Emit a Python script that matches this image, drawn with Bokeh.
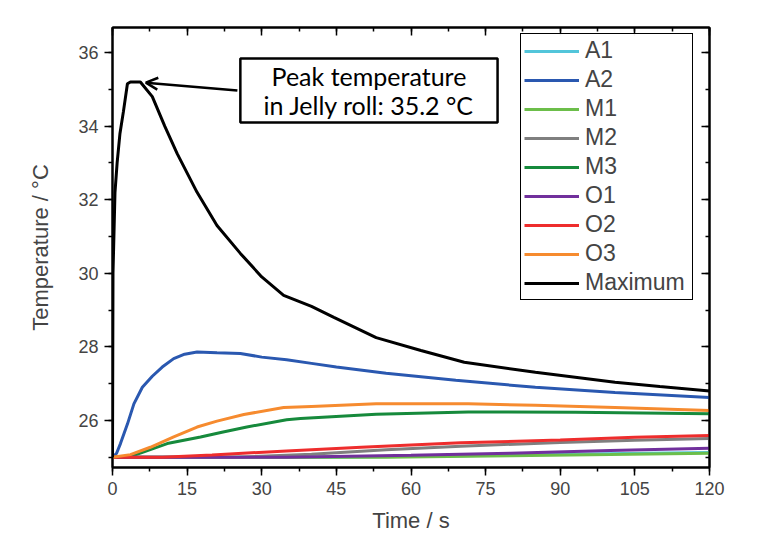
from bokeh.plotting import figure
from bokeh.models import (LinearAxis, SingleIntervalTicker, Legend, LegendItem,
                          BoxAnnotation, Label, Arrow, OpenHead, Range1d,
                          CustomJSTickFormatter)
from bokeh.embed import file_html
from bokeh.resources import INLINE

# Temperature histories (time in s, temperature in degC)
t_a1 = [0, 45, 70, 90, 120]
a1 = [25.0, 25.0, 25.04, 25.08, 25.13]

t_a2 = [0, 0.8, 1.6, 3, 4.3, 6, 8, 10, 12.3, 14.5, 17, 21, 25.7, 30, 35, 40, 45, 55, 69, 85, 101, 120]
a2 = [25.0, 25.1, 25.37, 25.9, 26.45, 26.9, 27.2, 27.45, 27.68, 27.8, 27.86, 27.84, 27.82, 27.72,
      27.65, 27.55, 27.45, 27.28, 27.09, 26.9, 26.76, 26.62]

t_m1 = [0, 55, 80, 100, 120]
m1 = [25.0, 25.0, 25.04, 25.07, 25.11]

t_m2 = [0, 25, 40, 55, 70, 90, 105, 120]
m2 = [25.0, 25.0, 25.08, 25.2, 25.3, 25.4, 25.46, 25.51]

t_m3 = [0, 3, 5.6, 11, 17.7, 22, 27, 35, 37.8, 53, 71.5, 93, 120]
m3 = [25.0, 25.0, 25.11, 25.37, 25.55, 25.68, 25.82, 26.02, 26.05, 26.17, 26.23, 26.22, 26.18]

t_o1 = [0, 35, 60, 80, 100, 120]
o1 = [25.0, 25.0, 25.05, 25.11, 25.18, 25.24]

t_o2 = [0, 10, 20, 35, 50, 70, 90, 105, 120]
o2 = [25.0, 25.0, 25.06, 25.17, 25.27, 25.39, 25.47, 25.54, 25.59]

t_o3 = [0, 3.6, 7.6, 12.3, 17, 21, 26.4, 34.4, 40, 53, 71.5, 85, 101, 120]
o3 = [25.0, 25.07, 25.27, 25.55, 25.82, 25.98, 26.16, 26.35, 26.38, 26.45, 26.45, 26.41, 26.35, 26.27]

t_max = [0, 0.1, 0.5, 0.93, 1.5, 2.2, 3.0, 3.6, 5.6, 8, 10.5, 13, 17, 21, 25.7, 30, 34.4, 40,
         44.5, 53, 62, 70.7, 85, 101, 110, 120]
t_maximum = [25.0, 30.0, 32.2, 33.0, 33.8, 34.4, 35.15, 35.2, 35.2, 34.8, 34.0, 33.25, 32.2, 31.3,
             30.54, 29.9, 29.4, 29.1, 28.8, 28.25, 27.9, 27.58, 27.31, 27.04, 26.92, 26.8]

peak_value = 35.2
peak_time = 4.5

series = [
    ("A1", t_a1, a1, "#52C5DA"),
    ("A2", t_a2, a2, "#2A58B0"),
    ("M1", t_m1, m1, "#6CBE4A"),
    ("M2", t_m2, m2, "#7F7F7F"),
    ("M3", t_m3, m3, "#168A3C"),
    ("O1", t_o1, o1, "#71309C"),
    ("O2", t_o2, o2, "#EE2D2D"),
    ("O3", t_o3, o3, "#F68B2F"),
    ("Maximum", t_max, t_maximum, "#000000"),
]

FONT = "Liberation Sans"

p = figure(width=759, height=542, output_backend="svg", toolbar_location=None,
           x_range=Range1d(0, 120), y_range=Range1d(24.72, 36.68),
           min_border_left=112, min_border_right=50, min_border_top=27, min_border_bottom=75)
p.grid.visible = False
p.outline_line_color = "black"
p.outline_line_width = 2
p.background_fill_color = "white"
p.border_fill_color = "white"

xt = SingleIntervalTicker(interval=15, num_minor_ticks=2)
yt = SingleIntervalTicker(interval=2, num_minor_ticks=2)

for ax in (p.xaxis[0], p.yaxis[0]):
    ax.axis_line_width = 2
    ax.major_tick_line_width = 1.5
    ax.minor_tick_line_width = 1.5
    ax.major_tick_in = 0
    ax.major_tick_out = 8
    ax.minor_tick_in = 0
    ax.minor_tick_out = 4
    ax.major_label_text_font = FONT
    ax.major_label_text_font_size = "18px"
    ax.axis_label_text_font = FONT
    ax.axis_label_text_font_size = "22px"
    ax.axis_label_text_font_style = "normal"
    ax.major_label_standoff = 6

p.xaxis[0].ticker = xt
p.yaxis[0].ticker = yt
p.xaxis[0].axis_label = "Time / s"
p.yaxis[0].axis_label = "Temperature / °C"
p.xaxis[0].axis_label_standoff = 10
p.yaxis[0].axis_label_standoff = 22

# mirrored axes on top and right, ticks pointing inward, no labels
blank = CustomJSTickFormatter(code="return '';")
for side, tk in (("above", xt), ("right", yt)):
    ax = LinearAxis(ticker=tk, formatter=blank)
    ax.axis_line_width = 2
    ax.major_tick_line_width = 1.5
    ax.minor_tick_line_width = 1.5
    ax.major_tick_in = 8
    ax.major_tick_out = 0
    ax.minor_tick_in = 4
    ax.minor_tick_out = 0
    ax.major_label_standoff = 0
    p.add_layout(ax, side)

items = []
for name, tx, ty, col in series:
    r = p.line(tx, ty, line_color=col, line_width=3)
    items.append(LegendItem(label=name, renderers=[r]))

legend = Legend(items=items, location=(408, 167))
legend.label_text_font = FONT
legend.label_text_font_size = "23px"
legend.border_line_color = "black"
legend.border_line_width = 1.5
legend.border_line_alpha = 1.0
legend.padding = 3
legend.margin = 0
legend.spacing = 2
legend.glyph_width = 55
legend.glyph_height = 20
legend.label_height = 26
legend.label_width = 104
legend.label_standoff = 6
p.add_layout(legend)

# annotation box with arrow to the peak
box = BoxAnnotation(left=25.7, right=77.4, bottom=34.10, top=35.84,
                    fill_color="white", fill_alpha=1.0,
                    line_color="black", line_alpha=1.0, line_width=2.5)
p.add_layout(box)
for txt, yy in (("Peak temperature", 35.36), ("in Jelly roll: 35.2 °C", 34.56)):
    p.add_layout(Label(x=51.55, y=yy, text=txt, text_align="center", text_baseline="middle",
                       text_font="Lato", text_font_size="25px", text_color="black"))

p.add_layout(Arrow(end=OpenHead(size=12, line_width=2.5, line_color="black"),
                   x_start=25.1, y_start=34.97, x_end=peak_time + 2.2, y_end=peak_value - 0.02,
                   line_width=2.5, line_color="black"))

open("out.html", "w").write(file_html(p, INLINE))
